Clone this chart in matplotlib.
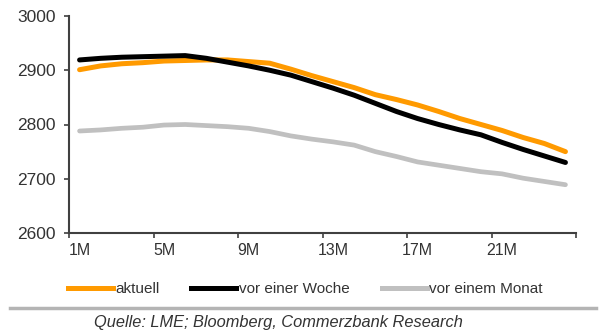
import matplotlib
matplotlib.use("Agg")
import matplotlib.pyplot as plt
from matplotlib.lines import Line2D

plt.rcParams['font.family'] = ['Liberation Sans', 'DejaVu Sans']

# Terminkurve: Laufzeiten in Monaten und Preise je Stichtag
months = list(range(1, 25))
aktuell = [2901, 2908, 2912, 2914, 2917, 2918, 2919, 2919, 2916, 2913, 2902, 2890,
           2879, 2868, 2855, 2846, 2836, 2824, 2811, 2800, 2789, 2776, 2765, 2750]
vor_woche = [2919, 2922, 2924, 2925, 2926, 2927, 2922, 2915, 2908, 2900, 2891, 2879,
             2867, 2854, 2839, 2824, 2811, 2800, 2790, 2781, 2767, 2754, 2742, 2730]
vor_monat = [2788, 2790, 2793, 2795, 2799, 2800, 2798, 2796, 2793, 2787, 2779, 2773,
             2768, 2762, 2750, 2741, 2731, 2725, 2719, 2713, 2709, 2701, 2695, 2689]
labels = ["aktuell", "vor einer Woche", "vor einem Monat"]
colors = ["#FF9A00", "#000000", "#C0C0C0"]
tick_labels = ["1M", "5M", "9M", "13M", "17M", "21M"]
y_ticks = [2600, 2700, 2800, 2900, 3000]

fig = plt.figure(figsize=(6.03, 3.32), dpi=100)
ax = fig.add_axes([69 / 603, 1 - 233 / 332, 507 / 603, 217 / 332])

ax.plot(months, vor_monat, color=colors[2], lw=3.4, solid_capstyle='round')
ax.plot(months, aktuell, color=colors[0], lw=3.6, solid_capstyle='round')
ax.plot(months, vor_woche, color=colors[1], lw=3.6, solid_capstyle='round')

ax.set_xlim(0.5, 24.5)
ax.set_ylim(2600, 3000)

axis_col = "#404040"
text_col = "#333333"
for side in ("top", "right"):
    ax.spines[side].set_visible(False)
for side in ("left", "bottom"):
    ax.spines[side].set_color(axis_col)
    ax.spines[side].set_linewidth(1.5)

ax.set_yticks(y_ticks)
ax.tick_params(axis='y', direction='out', length=3.5, width=1.2, color=axis_col,
               labelsize=12.5, labelcolor=text_col, pad=6)

# Teilstriche zwischen den Kategorien, Beschriftung mittig unter der Kategorie
ax.set_xticks([0.5 + 4 * i for i in range(7)])
ax.set_xticklabels([])
ax.set_xticks([1 + 4 * i for i in range(6)], minor=True)
ax.set_xticklabels(tick_labels, minor=True)
ax.tick_params(axis='x', which='major', direction='out', length=3.5, width=1.2, color=axis_col)
ax.tick_params(axis='x', which='minor', length=0, labelsize=11.5, labelcolor=text_col, pad=7)

handles = [Line2D([], [], color=c, lw=3.6) for c in colors]
fig.legend(handles, labels, loc='center', bbox_to_anchor=(305 / 603, 1 - 289 / 332),
           ncol=3, frameon=False, fontsize=11, handlelength=2.95, handletextpad=0.15,
           columnspacing=2.1, labelcolor=text_col)

fig.add_artist(Line2D([10 / 603, 596 / 603], [1 - 308 / 332, 1 - 308 / 332],
                      color="#B4B4B4", lw=2.5, transform=fig.transFigure))
fig.text(278 / 603, 1 - 322 / 332, "Quelle: LME; Bloomberg, Commerzbank Research",
         ha='center', va='center', fontsize=11.8, style='italic', color=text_col)

fig.savefig("out.png", dpi=100)
